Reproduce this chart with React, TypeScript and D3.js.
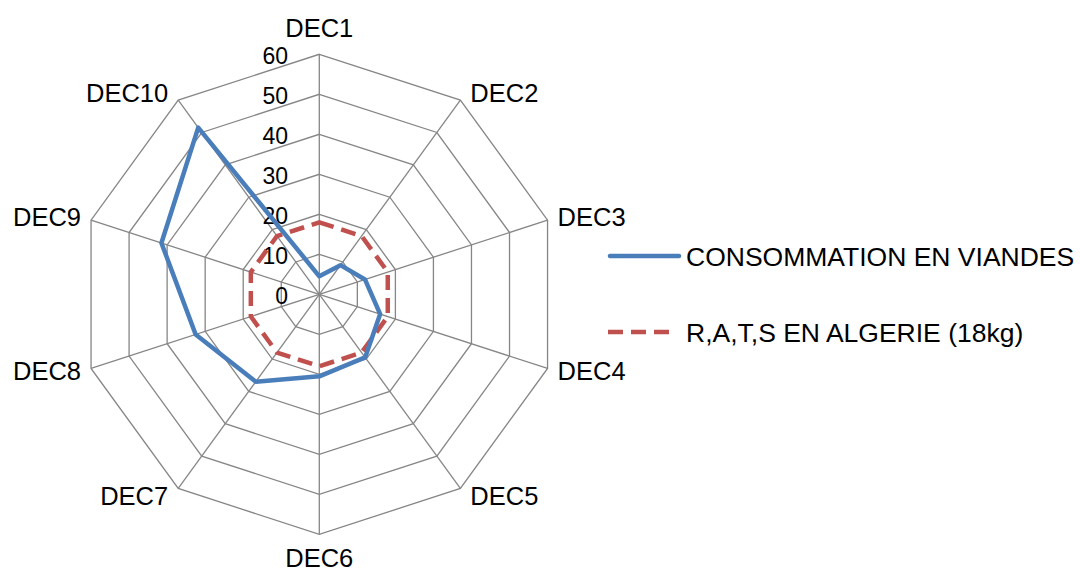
import React from "react";
import * as d3 from "d3";

const categories = ["DEC1", "DEC2", "DEC3", "DEC4", "DEC5", "DEC6", "DEC7", "DEC8", "DEC9", "DEC10"];
const consommation = [4.5, 9, 12, 16, 19.5, 20.5, 27, 32.5, 41.5, 51.5];
const rats = [18, 18, 18, 18, 18, 18, 18, 18, 18, 18];
const ticks = [0, 10, 20, 30, 40, 50, 60];
const seriesNames = ["CONSOMMATION EN VIANDES", "R,A,T,S EN ALGERIE (18kg)"];

const W = 1080;
const H = 569;
const cx = 319.3;
const cy = 294.3;
const R = 240;
const FONT = "'Liberation Sans', Arial, sans-serif";

export default function App() {
  const r = d3.scaleLinear().domain([0, 60]).range([0, R]);
  const angle = d3
    .scaleLinear()
    .domain([0, categories.length])
    .range([0, 2 * Math.PI]);

  const pt = (i: number, v: number): [number, number] => {
    const a = angle(i);
    return [cx + r(v) * Math.sin(a), cy - r(v) * Math.cos(a)];
  };

  const ring = (v: number) =>
    d3.line()(categories.map((_, i) => pt(i, v))) + "Z";

  const seriesPath = (vals: number[]) =>
    d3.line()(vals.map((v, i) => pt(i, v))) + "Z";

  return (
    <svg
      width={W}
      height={H}
      style={{ position: "absolute", left: 0, top: 0, background: "#fff" }}
      fontFamily={FONT}
    >
      {/* grid rings */}
      {ticks.slice(1).map((t) => (
        <path key={t} d={ring(t)} fill="none" stroke="#868686" strokeWidth={1.3} />
      ))}
      {/* spokes */}
      {categories.map((c, i) => {
        const [x, y] = pt(i, 60);
        return <line key={c} x1={cx} y1={cy} x2={x} y2={y} stroke="#868686" strokeWidth={1.3} />;
      })}
      {/* value labels */}
      {ticks.map((t) => (
        <text
          key={t}
          x={288}
          y={cy - r(t) + 1.5}
          textAnchor="end"
          dominantBaseline="central"
          fontSize={23}
          fill="#000"
        >
          {t}
        </text>
      ))}
      {/* category labels */}
      {categories.map((c, i) => {
        const a = angle(i);
        const s = Math.sin(a);
        const co = Math.cos(a);
        const [x, y] = pt(i, 60);
        let lx = x;
        let ly = y;
        let anchor: "start" | "end" | "middle" = "middle";
        if (Math.abs(s) < 0.01) {
          ly = y - co * (co > 0 ? 26 : 23.5);
        } else {
          anchor = s > 0 ? "start" : "end";
          lx = x + (s > 0 ? 10 : -10);
          ly = y - co * 9;
        }
        return (
          <text
            key={c}
            x={lx}
            y={ly}
            textAnchor={anchor}
            dominantBaseline="central"
            fontSize={25.5}
            fill="#000"
          >
            {c}
          </text>
        );
      })}
      {/* series */}
      <path
        d={seriesPath(rats)}
        fill="none"
        stroke="#c0504d"
        strokeWidth={4.5}
        strokeDasharray="15 8"
        strokeLinejoin="round"
      />
      <path
        d={seriesPath(consommation)}
        fill="none"
        stroke="#4a7ebb"
        strokeWidth={4.5}
        strokeLinejoin="round"
      />
      {/* legend */}
      <line x1={610} y1={256} x2={679} y2={256} stroke="#4a7ebb" strokeWidth={4.5} strokeLinecap="round" />
      <text x={686} y={257} dominantBaseline="central" fontSize={26.5} fill="#000">
        {seriesNames[0]}
      </text>
      <line
        x1={608}
        y1={332}
        x2={670}
        y2={332}
        stroke="#c0504d"
        strokeWidth={4.5}
        strokeDasharray="15 8"
      />
      <text x={686} y={333} dominantBaseline="central" fontSize={26.5} fill="#000">
        {seriesNames[1]}
      </text>
    </svg>
  );
}
